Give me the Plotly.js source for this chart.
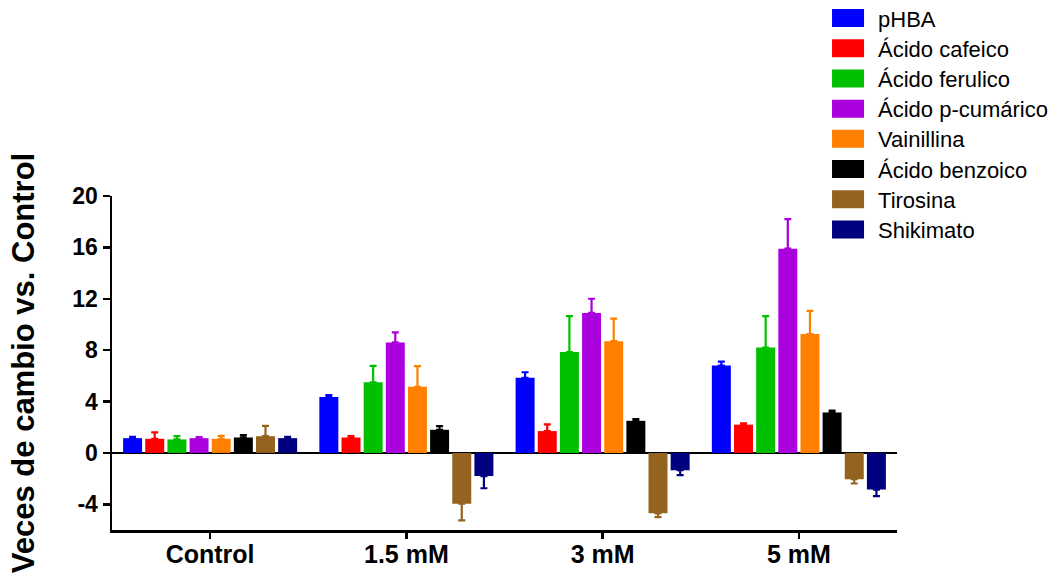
<!DOCTYPE html>
<html>
<head>
<meta charset="utf-8">
<script src="https://cdn.plot.ly/plotly-3.0.1.min.js"></script>
<style>html,body{margin:0;padding:0;background:#fff;}#chart{width:1055px;height:584px;}</style>
</head>
<body>
<div id="chart"></div>
<script>
const categories = ["Control", "1.5 mM", "3 mM", "5 mM"];
const seriesNames = ["pHBA", "Ácido cafeico", "Ácido ferulico", "Ácido p-cumárico", "Vainillina", "Ácido benzoico", "Tirosina", "Shikimato"];
const seriesColors = ["#0000FF", "#FF0000", "#00C000", "#AA00DD", "#FF8000", "#000000", "#956320", "#000080"];

const pHBA        = [1.15, 4.35, 5.85, 6.8];
const cafeico     = [1.1, 1.2, 1.7, 2.2];
const ferulico    = [1.05, 5.5, 7.85, 8.2];
const cumarico    = [1.15, 8.6, 10.9, 15.9];
const vainillina  = [1.1, 5.15, 8.7, 9.25];
const benzoico    = [1.2, 1.8, 2.5, 3.15];
const tirosina    = [1.3, -3.95, -4.7, -2.05];
const shikimato   = [1.15, -1.8, -1.35, -2.85];

const pHBA_err       = [0.1, 0.15, 0.43, 0.3];
const cafeico_err    = [0.5, 0.1, 0.52, 0.1];
const ferulico_err   = [0.25, 1.27, 2.8, 2.45];
const cumarico_err   = [0.08, 0.78, 1.1, 2.3];
const vainillina_err = [0.22, 1.6, 1.75, 1.8];
const benzoico_err   = [0.18, 0.28, 0.13, 0.15];
const tirosina_err   = [0.8, 1.3, 0.3, 0.33];
const shikimato_err  = [0.1, 0.95, 0.38, 0.52];

const seriesValues = [pHBA, cafeico, ferulico, cumarico, vainillina, benzoico, tirosina, shikimato];
const seriesErrors = [pHBA_err, cafeico_err, ferulico_err, cumarico_err, vainillina_err, benzoico_err, tirosina_err, shikimato_err];

const FONT = "Liberation Sans, Arial, sans-serif";
const LEGEND_STEP = 30.2;

const traces = seriesNames.map((name, i) => {
  const vals = seriesValues[i];
  const errs = seriesErrors[i];
  return {
    type: "bar",
    name: name,
    x: categories,
    y: vals,
    marker: {color: seriesColors[i], line: {width: 0}},
    error_y: {
      type: "data",
      symmetric: false,
      array: vals.map((v, k) => v >= 0 ? errs[k] : 0),
      arrayminus: vals.map((v, k) => v < 0 ? errs[k] : 0),
      color: seriesColors[i],
      thickness: 2.2,
      width: 3.5
    },
    hoverinfo: "x+y+name"
  };
});

const layout = {
  width: 1055,
  height: 584,
  paper_bgcolor: "#ffffff",
  plot_bgcolor: "#ffffff",
  margin: {l: 112, r: 158, t: 196, b: 54, pad: 0, autoexpand: false},
  barmode: "group",
  bargap: 0.097,
  bargroupgap: 0.143,
  font: {family: FONT, color: "#000000"},
  xaxis: {
    type: "category",
    range: [-0.5, 3.5],
    showline: true,
    linecolor: "#000000",
    linewidth: 2.5,
    ticks: "outside",
    ticklen: 6,
    tickwidth: 2.5,
    tickcolor: "#000000",
    showgrid: false,
    zeroline: false,
    ticklabelstandoff: -6,
    tickfont: {family: FONT, size: 25, weight: "bold", color: "#000000"},
    automargin: false
  },
  yaxis: {
    range: [-6, 20],
    tickvals: [-4, 0, 4, 8, 12, 16, 20],
    ticktext: ["-4", "0", "4", "8", "12", "16", "20"],
    showline: true,
    linecolor: "#000000",
    linewidth: 2.5,
    ticks: "outside",
    ticklen: 7,
    tickwidth: 2.5,
    tickcolor: "#000000",
    showgrid: false,
    zeroline: true,
    zerolinecolor: "#000000",
    zerolinewidth: 2.5,
    tickfont: {family: FONT, size: 23, weight: "bold", color: "#000000"},
    title: {text: "Veces de cambio vs. Control", font: {family: FONT, size: 31, weight: "bold", color: "#000000"}, standoff: 29},
    automargin: false
  },
  showlegend: true,
  legend: {
    x: 0.9045,
    xanchor: "left",
    y: 1.595,
    yanchor: "top",
    font: {family: FONT, size: 22, color: "#000000"},
    bgcolor: "rgba(0,0,0,0)",
    borderwidth: 0,
    itemwidth: 46,
    traceorder: "normal"
  }
};

function styleLegend() {
  const items = Array.from(document.querySelectorAll("#chart .legend .traces"));
  let x0 = null, y0 = null;
  items.forEach((tr, i) => {
    const m = /translate\(\s*([-\d.]+)[ ,]+([-\d.]+)\s*\)/.exec(tr.getAttribute("transform") || "");
    if (m && x0 === null) { x0 = parseFloat(m[1]); y0 = parseFloat(m[2]); }
    if (x0 !== null) tr.setAttribute("transform", "translate(" + x0 + "," + (y0 + i * LEGEND_STEP) + ")");
    const txt = tr.querySelector("text.legendtext");
    const tx = txt ? parseFloat(txt.getAttribute("x")) || 40 : 40;
    tr.querySelectorAll(".legendpoints path").forEach(p => {
      p.removeAttribute("transform");
      p.setAttribute("d", "M" + (tx - 14) + ",9H" + (tx - 46) + "V-9H" + (tx - 14) + "Z");
    });
  });
}

Plotly.newPlot("chart", traces, layout, {displayModeBar: false, staticPlot: true}).then(gd => {
  styleLegend();
  gd.on("plotly_afterplot", styleLegend);
});
</script>
</body>
</html>
